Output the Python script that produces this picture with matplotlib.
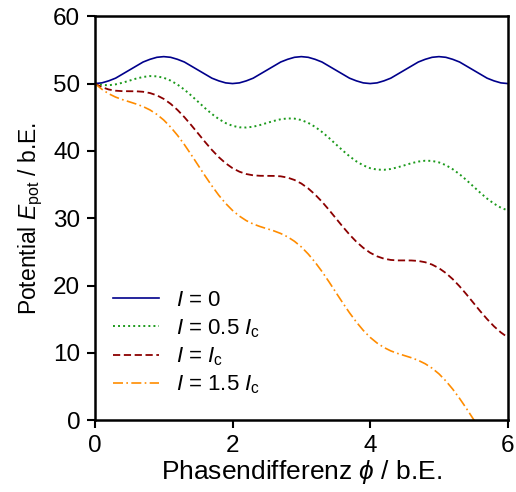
import numpy as np
import matplotlib
matplotlib.use("Agg")
import matplotlib.pyplot as plt

plt.rcParams['font.family'] = ['Liberation Sans', 'DejaVu Sans']
plt.rcParams['mathtext.fontset'] = 'custom'
plt.rcParams['mathtext.rm'] = 'Liberation Sans'
plt.rcParams['mathtext.it'] = 'Liberation Sans:italic'
plt.rcParams['mathtext.fallback'] = 'cm'

# Phasendifferenz (b.E.), Schrittweite 0.1
phi = np.round(np.arange(0, 61) * 0.1, 1)

# I = 0
E_0 = [50.0, 50.1, 50.4, 50.8, 51.4, 52.0, 52.6, 53.2, 53.6, 53.9,
       54.0, 53.9, 53.6, 53.2, 52.6, 52.0, 51.4, 50.8, 50.4, 50.1,
       50.0, 50.1, 50.4, 50.8, 51.4, 52.0, 52.6, 53.2, 53.6, 53.9,
       54.0, 53.9, 53.6, 53.2, 52.6, 52.0, 51.4, 50.8, 50.4, 50.1,
       50.0, 50.1, 50.4, 50.8, 51.4, 52.0, 52.6, 53.2, 53.6, 53.9,
       54.0, 53.9, 53.6, 53.2, 52.6, 52.0, 51.4, 50.8, 50.4, 50.1,
       50.0]
# I = 0.5 Ic
E_05 = [50.00, 49.79, 49.75, 49.88, 50.12, 50.43, 50.74, 50.98, 51.11, 51.07,
        50.86, 50.44, 49.85, 49.10, 48.22, 47.29, 46.35, 45.48, 44.73, 44.13,
        43.72, 43.50, 43.47, 43.59, 43.84, 44.15, 44.45, 44.70, 44.82, 44.79,
        44.58, 44.16, 43.57, 42.81, 41.94, 41.00, 40.07, 39.20, 38.44, 37.85,
        37.43, 37.22, 37.19, 37.31, 37.56, 37.86, 38.17, 38.41, 38.54, 38.51,
        38.29, 37.88, 37.28, 36.53, 35.66, 34.72, 33.79, 32.91, 32.16, 31.56,
        31.15]
# I = Ic
E_1 = [50.00, 49.47, 49.12, 48.94, 48.87, 48.86, 48.85, 48.78, 48.59, 48.25,
       47.72, 46.99, 46.08, 45.01, 43.82, 42.58, 41.33, 40.14, 39.07, 38.16,
       37.43, 36.91, 36.56, 36.37, 36.30, 36.29, 36.28, 36.22, 36.03, 35.68,
       35.15, 34.42, 33.51, 32.45, 31.26, 30.01, 28.76, 27.57, 26.50, 25.60,
       24.87, 24.34, 23.99, 23.80, 23.73, 23.73, 23.72, 23.65, 23.46, 23.11,
       22.58, 21.86, 20.95, 19.88, 18.69, 17.44, 16.19, 15.01, 13.94, 13.03,
       12.30]
# I = 1.5 Ic
E_15 = [50.00, 49.16, 48.49, 47.99, 47.61, 47.29, 46.96, 46.58, 46.08, 45.42,
        44.58, 43.53, 42.31, 40.93, 39.42, 37.86, 36.30, 34.80, 33.41, 32.19,
        31.15, 30.31, 29.64, 29.14, 28.76, 28.44, 28.12, 27.73, 27.23, 26.57,
        25.73, 24.68, 23.46, 22.08, 20.58, 19.01, 17.45, 15.95, 14.57, 13.34,
        12.30, 11.46, 10.80, 10.29, 9.91, 9.59, 9.27, 8.88, 8.38, 7.72,
        6.88, 5.83, 4.61, 3.23, 1.73, 0.16, -1.40, -2.90, -4.28, -5.51,
        -6.55]

labels = [r'$I$ = 0', r'$I$ = 0.5 $I_\mathrm{c}$', r'$I$ = $I_\mathrm{c}$',
          r'$I$ = 1.5 $I_\mathrm{c}$']

fig = plt.figure(figsize=(5.16, 4.92), dpi=100)
ax = fig.add_axes([0.184, 0.146, 0.8, 0.821])

ax.plot(phi, E_0, color='#00008b', lw=1.2, ls='-', label=labels[0])
ax.plot(phi, E_05, color='#1c9a1c', lw=1.4, ls=(0, (1, 1.6)), label=labels[1])
ax.plot(phi, E_1, color='#8b0000', lw=1.3, ls=(0, (4, 2)), label=labels[2])
ax.plot(phi, E_15, color='#ff8c00', lw=1.2, ls=(0, (6, 2, 1, 2)), label=labels[3])

ax.set_xlim(0, 6)
ax.set_ylim(0, 60)
ax.set_xticks([0, 2, 4, 6])
ax.set_yticks([0, 10, 20, 30, 40, 50, 60])
ax.tick_params(labelsize=17.5, width=1.5, length=5.5, pad=5, direction='out')
for s in ax.spines.values():
    s.set_linewidth(1.8)

ax.set_xlabel(r'Phasendifferenz $\phi$ / b.E.', fontsize=19, labelpad=1)
ax.set_ylabel(r'Potential $E_\mathrm{pot}$ / b.E.', fontsize=16.5, labelpad=6)

ax.legend(loc='lower left', bbox_to_anchor=(0.0, 0.015), frameon=False,
          fontsize=16, handlelength=2.07, labelspacing=0.26, borderaxespad=0.4)

fig.savefig('out.png', dpi=100)
